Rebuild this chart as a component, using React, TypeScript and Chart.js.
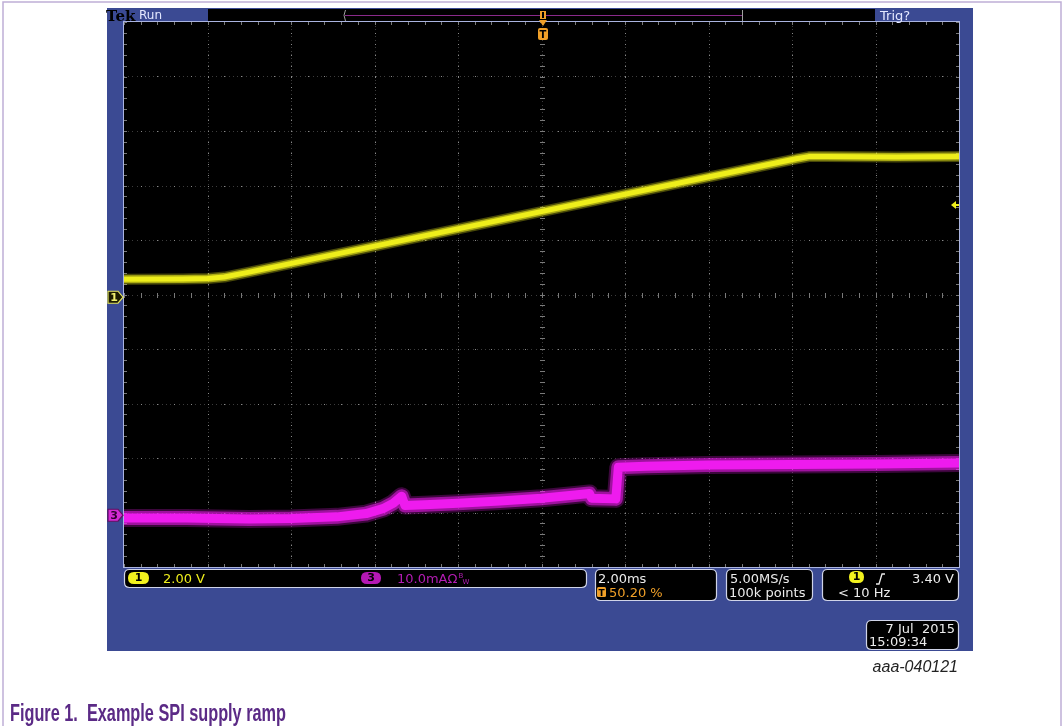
import React, { useEffect, useRef } from "react";
import { Chart, registerables } from "chart.js";

Chart.register(...registerables);

// ---------- data ----------
// Channel 1 (yellow): supply voltage, 2.00 V/div
const ch1TimeMs = [-10, -8.6, -8.0, -7.6, -7.0, 6.1, 6.4, 6.8, 8.5, 10];
const ch1Volts = [0.66, 0.67, 0.69, 0.74, 0.92, 5.08, 5.16, 5.16, 5.15, 5.16];

// Channel 3 (magenta): supply current, 10.0 mA/div
const ch3TimeMs = [-10, -8.5, -7, -6, -4.9, -4.2, -3.8, -3.55, -3.35, -3.27, -2.8, -2, -1, 0, 0.8, 1.15, 1.2, 1.78, 1.84, 2.5, 4, 6, 8, 10];
const ch3mA = [-0.5, -0.5, -0.7, -0.6, -0.3, 0.3, 1.2, 2.2, 3.5, 1.8, 1.9, 2.2, 2.6, 3.1, 3.7, 4.0, 3.1, 3.0, 8.8, 9.0, 9.2, 9.3, 9.4, 9.6];

// Scope settings
const CH1_VOLTS_PER_DIV = 2;
const CH1_POSITION_DIV = -0.05;
const CH3_MA_PER_DIV = 10;
const CH3_POSITION_DIV = -4.05;
const TIME_MS_PER_DIV = 2;
const TRIGGER_LEVEL_V = 3.4;
const TRIGGER_TIME_MS = 0.04;

// Readout texts
const HEADER_LEFT = ["Tek", "Run"];
const HEADER_RIGHT = "Trig?";
const CH1_SCALE_TEXT = "2.00 V";
const CH3_SCALE_TEXT = "10.0mAΩ";
const TIMEBASE_TEXT = ["2.00ms", "50.20 %"];
const SAMPLING_TEXT = ["5.00MS/s", "100k points"];
const TRIGGER_TEXT = ["3.40 V", "< 10 Hz"];
const DATE_TEXT = ["7 Jul  2015", "15:09:34"];
const FIGURE_ID = "aaa-040121";
const CAPTION = "Figure 1.  Example SPI supply ramp";

const W = 1063;
const H = 726;
const BLUE = "#3b4a93";
const YELLOW = "#eeee1c";
const MAGENTA = "#ee1cee";
const ORANGE = "#f0a028";
const TEXT = "#ececec";
const FONT = "'DejaVu Sans', sans-serif";
const READOUT_FONT = `13px ${FONT}`;

function roundRect(ctx: CanvasRenderingContext2D, x: number, y: number, w: number, h: number, r: number) {
  ctx.beginPath();
  ctx.moveTo(x + r, y);
  ctx.lineTo(x + w - r, y);
  ctx.quadraticCurveTo(x + w, y, x + w, y + r);
  ctx.lineTo(x + w, y + h - r);
  ctx.quadraticCurveTo(x + w, y + h, x + w - r, y + h);
  ctx.lineTo(x + r, y + h);
  ctx.quadraticCurveTo(x, y + h, x, y + h - r);
  ctx.lineTo(x, y + r);
  ctx.quadraticCurveTo(x, y, x + r, y);
  ctx.closePath();
}

function box(ctx: CanvasRenderingContext2D, x: number, y: number, w: number, h: number) {
  roundRect(ctx, x, y, w, h, 5);
  ctx.fillStyle = "#000";
  ctx.fill();
  ctx.strokeStyle = "#d0d4e8";
  ctx.lineWidth = 1.2;
  ctx.stroke();
}

function pill(ctx: CanvasRenderingContext2D, x: number, y: number, w: number, h: number, fill: string, label: string) {
  roundRect(ctx, x, y, w, h, h / 2);
  ctx.fillStyle = fill;
  ctx.fill();
  ctx.fillStyle = "#000";
  ctx.font = `bold 11px ${FONT}`;
  ctx.textAlign = "center";
  ctx.textBaseline = "middle";
  ctx.fillText(label, x + w / 2, y + h / 2 + 0.5);
  ctx.textAlign = "left";
  ctx.textBaseline = "alphabetic";
}

function marker(ctx: CanvasRenderingContext2D, y: number, fill: string, edge: string, textColor: string, label: string) {
  const x0 = 108;
  const x1 = 123;
  ctx.beginPath();
  ctx.moveTo(x0, y - 6);
  ctx.lineTo(x1 - 5, y - 6);
  ctx.lineTo(x1, y);
  ctx.lineTo(x1 - 5, y + 6);
  ctx.lineTo(x0, y + 6);
  ctx.closePath();
  ctx.fillStyle = fill;
  ctx.fill();
  ctx.strokeStyle = edge;
  ctx.lineWidth = 1.2;
  ctx.stroke();
  ctx.fillStyle = textColor;
  ctx.font = `bold 11px ${FONT}`;
  ctx.textAlign = "center";
  ctx.textBaseline = "middle";
  ctx.fillText(label, x0 + 6, y + 0.5);
  ctx.textAlign = "left";
  ctx.textBaseline = "alphabetic";
}

const scopePlugin = {
  id: "scope",
  beforeDraw(chart: any) {
    const ctx: CanvasRenderingContext2D = chart.ctx;
    const { left, right, top, bottom } = chart.chartArea;
    ctx.save();
    ctx.fillStyle = "#fff";
    ctx.fillRect(0, 0, W, H);
    // page frame
    ctx.strokeStyle = "#bfaed6";
    ctx.lineWidth = 1.5;
    ctx.beginPath();
    ctx.moveTo(3, H);
    ctx.lineTo(3, 2);
    ctx.lineTo(1061, 2);
    ctx.lineTo(1061, H);
    ctx.stroke();
    // scope body
    ctx.fillStyle = BLUE;
    ctx.fillRect(107, 8, 866, 643);
    // header bar
    ctx.fillStyle = "#000";
    ctx.fillRect(208, 9, 667, 13);
    ctx.fillStyle = BLUE;
    ctx.fillRect(875, 8, 86, 14);
    // graticule background
    ctx.fillStyle = "#000";
    ctx.fillRect(left, top, right - left, bottom - top);
    ctx.restore();
  },
  beforeDatasetsDraw(chart: any) {
    const ctx: CanvasRenderingContext2D = chart.ctx;
    const xs = chart.scales.x;
    const ys = chart.scales.y;
    const { left, right, top, bottom } = chart.chartArea;
    ctx.save();
    const xDiv = xs.getPixelForValue(TIME_MS_PER_DIV) - xs.getPixelForValue(0);
    const yDiv = ys.getPixelForValue(0) - ys.getPixelForValue(1);
    const cx = xs.getPixelForValue(0);
    const cy = ys.getPixelForValue(0);
    // faint dotted grid lines
    ctx.fillStyle = "#3c3c3c";
    for (let i = -4; i <= 4; i++) {
      const x = Math.round(xs.getPixelForValue(i * TIME_MS_PER_DIV));
      for (let y = top; y < bottom; y += 3.6) ctx.fillRect(x, Math.round(y), 1, 1);
    }
    for (let j = -4; j <= 4; j++) {
      const y = Math.round(ys.getPixelForValue(j));
      for (let x = left; x < right; x += 4.2) ctx.fillRect(Math.round(x), y, 1, 1);
    }
    // brighter dots every 1/5 division on grid lines
    ctx.fillStyle = "#8a8a8a";
    for (let i = -4; i <= 4; i++) {
      const x = Math.round(xs.getPixelForValue(i * TIME_MS_PER_DIV));
      for (let k = -25; k <= 25; k++) {
        const y = Math.round(cy + (k * yDiv) / 5);
        if (y > top && y < bottom) ctx.fillRect(x, y, 1, 1);
      }
    }
    for (let j = -4; j <= 4; j++) {
      const y = Math.round(ys.getPixelForValue(j));
      for (let k = -50; k <= 50; k++) {
        const x = Math.round(cx + (k * xDiv) / 5);
        if (x > left && x < right) ctx.fillRect(x, y, 1, 1);
      }
    }
    // center cross and border ticks
    ctx.strokeStyle = "#7a7a7a";
    ctx.lineWidth = 1;
    ctx.beginPath();
    for (let k = -50; k <= 50; k++) {
      const x = Math.round(cx + (k * xDiv) / 5) + 0.5;
      if (x > left && x < right) {
        ctx.moveTo(x, Math.round(cy) - 2);
        ctx.lineTo(x, Math.round(cy) + 3);
        ctx.moveTo(x, top);
        ctx.lineTo(x, top + 3);
        ctx.moveTo(x, bottom);
        ctx.lineTo(x, bottom - 3);
      }
    }
    for (let k = -25; k <= 25; k++) {
      const y = Math.round(cy + (k * yDiv) / 5) + 0.5;
      if (y > top && y < bottom) {
        ctx.moveTo(Math.round(cx) - 2, y);
        ctx.lineTo(Math.round(cx) + 3, y);
        ctx.moveTo(left, y);
        ctx.lineTo(left + 3, y);
        ctx.moveTo(right, y);
        ctx.lineTo(right - 3, y);
      }
    }
    ctx.stroke();
    ctx.restore();
  },
  afterDraw(chart: any) {
    const ctx: CanvasRenderingContext2D = chart.ctx;
    const xs = chart.scales.x;
    const ys = chart.scales.y;
    const { left, right, top, bottom } = chart.chartArea;
    ctx.save();
    // graticule border
    ctx.strokeStyle = "#aab4e0";
    ctx.lineWidth = 1;
    ctx.strokeRect(left - 0.5, top - 0.5, right - left + 1, bottom - top + 1);

    // header texts
    ctx.fillStyle = "#000";
    ctx.font = `bold 15px 'DejaVu Serif', serif`;
    ctx.fillText(HEADER_LEFT[0], 106, 21);
    ctx.fillStyle = "#e4e8ff";
    ctx.font = `12px ${FONT}`;
    ctx.fillText(HEADER_LEFT[1], 139, 19);
    ctx.font = `13px ${FONT}`;
    ctx.fillText(HEADER_RIGHT, 880, 20);

    // record view bracket
    ctx.strokeStyle = "#a0a0a0";
    ctx.lineWidth = 1;
    ctx.beginPath();
    ctx.moveTo(345.5, 10);
    ctx.quadraticCurveTo(342.5, 15, 345.5, 21);
    ctx.moveTo(742.5, 10);
    ctx.lineTo(742.5, 21);
    ctx.stroke();
    ctx.strokeStyle = "#8a2a8a";
    ctx.beginPath();
    ctx.moveTo(345, 15.5);
    ctx.lineTo(742, 15.5);
    ctx.stroke();

    // trigger time marker
    const tx = Math.round(xs.getPixelForValue(TRIGGER_TIME_MS));
    ctx.fillStyle = ORANGE;
    ctx.fillRect(tx - 3, 11, 6, 8);
    ctx.beginPath();
    ctx.moveTo(tx - 4, 20);
    ctx.lineTo(tx + 4, 20);
    ctx.lineTo(tx, 26);
    ctx.closePath();
    ctx.fill();
    ctx.fillStyle = "#000";
    ctx.fillRect(tx - 1, 12, 2, 6);
    roundRect(ctx, tx - 5, 28, 10, 12, 2);
    ctx.fillStyle = ORANGE;
    ctx.fill();
    ctx.fillStyle = "#000";
    ctx.font = `bold 10px ${FONT}`;
    ctx.textAlign = "center";
    ctx.fillText("T", tx, 38);
    ctx.textAlign = "left";

    // channel ground markers
    marker(ctx, ys.getPixelForValue(CH1_POSITION_DIV), "#1a1a00", "#e6e65a", "#f0f070", "1");
    marker(ctx, ys.getPixelForValue(CH3_POSITION_DIV), "#d42ad4", "#601060", "#300030", "3");

    // trigger level arrow
    const ty = Math.round(ys.getPixelForValue(TRIGGER_LEVEL_V / CH1_VOLTS_PER_DIV + CH1_POSITION_DIV));
    ctx.fillStyle = YELLOW;
    ctx.beginPath();
    ctx.moveTo(right - 8, ty);
    ctx.lineTo(right - 3, ty - 4);
    ctx.lineTo(right - 3, ty + 4);
    ctx.closePath();
    ctx.fill();
    ctx.fillRect(right - 4, ty - 1, 4, 2);

    // bottom readouts
    box(ctx, 124.5, 569.5, 462, 18);
    pill(ctx, 128, 572, 21, 12, "#f2f21e", "1");
    ctx.font = READOUT_FONT;
    ctx.fillStyle = YELLOW;
    ctx.fillText(CH1_SCALE_TEXT, 163, 583);
    pill(ctx, 361, 572, 20, 12, "#b418b4", "3");
    ctx.font = READOUT_FONT;
    ctx.fillStyle = "#b41cb4";
    ctx.fillText(CH3_SCALE_TEXT, 397, 583);
    const w3 = ctx.measureText(CH3_SCALE_TEXT).width;
    ctx.font = `7px ${FONT}`;
    ctx.fillText("B", 397 + w3 + 1, 578);
    ctx.fillText("W", 397 + w3 + 5, 584);

    box(ctx, 595.5, 569.5, 121, 31);
    ctx.font = READOUT_FONT;
    ctx.fillStyle = TEXT;
    ctx.fillText(TIMEBASE_TEXT[0], 598, 583);
    roundRect(ctx, 597, 587, 9, 10, 1.5);
    ctx.fillStyle = ORANGE;
    ctx.fill();
    ctx.fillStyle = "#000";
    ctx.font = `bold 9px ${FONT}`;
    ctx.textAlign = "center";
    ctx.fillText("T", 601.5, 595.5);
    ctx.textAlign = "left";
    ctx.font = READOUT_FONT;
    ctx.fillStyle = ORANGE;
    ctx.fillText(TIMEBASE_TEXT[1], 609, 597);

    box(ctx, 726.5, 569.5, 86, 31);
    ctx.font = READOUT_FONT;
    ctx.fillStyle = TEXT;
    ctx.fillText(SAMPLING_TEXT[0], 730, 583);
    ctx.fillText(SAMPLING_TEXT[1], 729, 597);

    box(ctx, 822.5, 569.5, 136, 31);
    pill(ctx, 849, 571, 15, 12, "#f2f21e", "1");
    ctx.strokeStyle = TEXT;
    ctx.lineWidth = 1.3;
    ctx.beginPath();
    ctx.moveTo(876, 584);
    ctx.lineTo(879, 584);
    ctx.lineTo(882, 574);
    ctx.lineTo(885, 574);
    ctx.stroke();
    ctx.font = READOUT_FONT;
    ctx.fillStyle = TEXT;
    ctx.textAlign = "right";
    ctx.fillText(TRIGGER_TEXT[0], 954, 583);
    ctx.textAlign = "left";
    ctx.fillText(TRIGGER_TEXT[1], 838, 597);

    box(ctx, 866.5, 620.5, 92, 29);
    ctx.font = READOUT_FONT;
    ctx.fillStyle = TEXT;
    ctx.textAlign = "right";
    ctx.fillText(DATE_TEXT[0], 955, 633);
    ctx.textAlign = "left";
    ctx.fillText(DATE_TEXT[1], 869, 646);

    // figure id and caption
    ctx.fillStyle = "#222";
    ctx.font = `italic 16px 'Liberation Sans', Arial, sans-serif`;
    ctx.textAlign = "right";
    ctx.fillText(FIGURE_ID, 958, 672);
    ctx.textAlign = "left";
    ctx.fillStyle = "#5b2a86";
    ctx.font = `bold 23px 'Liberation Sans', Arial, sans-serif`;
    const cw = ctx.measureText(CAPTION).width;
    const sx = 276 / cw;
    ctx.save();
    ctx.translate(10, 721);
    ctx.scale(sx, 1);
    ctx.fillText(CAPTION, 0, 0);
    ctx.restore();
    ctx.restore();
  },
};

export default function App() {
  const canvasRef = useRef<HTMLCanvasElement | null>(null);

  useEffect(() => {
    const canvas = canvasRef.current;
    if (!canvas) return;
    const ch1Data = ch1TimeMs.map((t, i) => ({ x: t, y: ch1Volts[i] / CH1_VOLTS_PER_DIV + CH1_POSITION_DIV }));
    const ch3Data = ch3TimeMs.map((t, i) => ({ x: t, y: ch3mA[i] / CH3_MA_PER_DIV + CH3_POSITION_DIV }));
    const line = (data: any, color: string, width: number) => ({
      data,
      borderColor: color,
      borderWidth: width,
      pointRadius: 0,
      tension: 0,
      fill: false,
      borderJoinStyle: "round" as const,
      borderCapStyle: "butt" as const,
    });
    const chart = new Chart(canvas, {
      type: "line",
      data: {
        datasets: [
          line(ch3Data, "rgba(238,28,238,0.25)", 18),
          line(ch3Data, "rgba(238,28,238,0.55)", 14),
          line(ch3Data, MAGENTA, 9),
          line(ch1Data, "rgba(238,238,28,0.3)", 11),
          line(ch1Data, "rgba(238,238,28,0.6)", 8),
          line(ch1Data, YELLOW, 5),
        ],
      },
      options: {
        animation: false,
        responsive: false,
        devicePixelRatio: 1,
        layout: { padding: { left: 124, top: 22, right: 104, bottom: 159 } },
        plugins: { legend: { display: false }, tooltip: { enabled: false }, title: { display: false } },
        scales: {
          x: { type: "linear", min: -5 * TIME_MS_PER_DIV, max: 5 * TIME_MS_PER_DIV, display: false },
          y: { type: "linear", min: -5, max: 5, display: false },
        },
        events: [],
      },
      plugins: [scopePlugin],
    });
    return () => chart.destroy();
  }, []);

  return (
    <div style={{ position: "absolute", left: 0, top: 0, width: W, height: H }}>
      <canvas ref={canvasRef} width={W} height={H} style={{ display: "block" }} />
    </div>
  );
}
